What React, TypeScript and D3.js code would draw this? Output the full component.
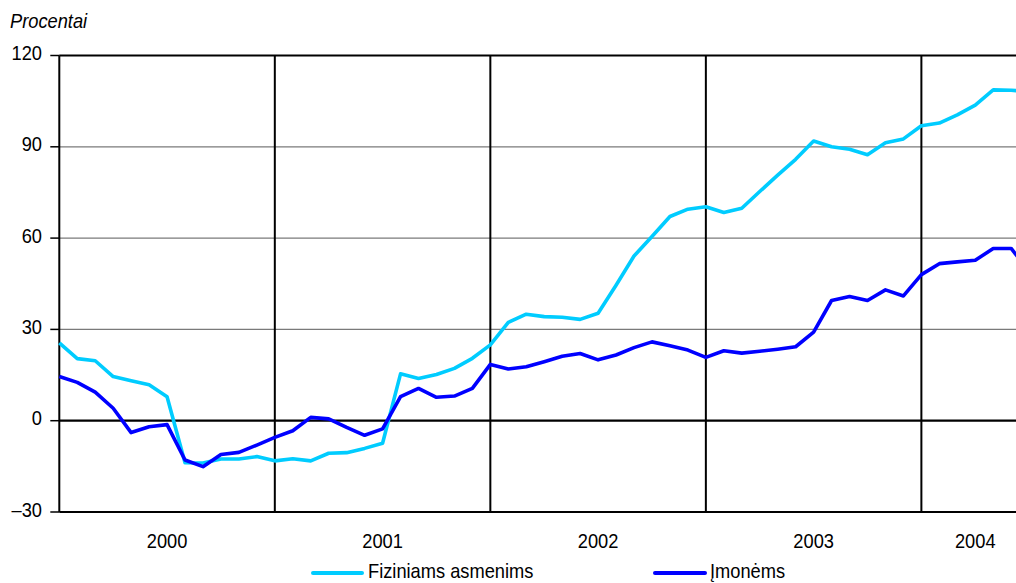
import React from "react";
import * as d3 from "d3";

// Monthly observations, Jan 2000 .. Jul 2004 (index 0..54)
const fiziniams: number[] = [
  25.6, 20.4, 19.7, 14.5, 13.1, 11.8, 7.9, -13.8, -13.9, -12.6, -12.6, -11.8,
  -13.2, -12.5, -13.2, -10.7, -10.5, -9.1, -7.4, 15.4, 13.9, 15.2, 17.2, 20.5,
  24.9, 32.3, 35.0, 34.2, 34.0, 33.3, 35.3, 44.5, 54.1, 60.5, 67.1, 69.5,
  70.3, 68.4, 69.8, 75.3, 80.7, 85.9, 91.9, 90.0, 89.2, 87.4, 91.3, 92.6,
  96.9, 97.8, 100.5, 103.7, 108.7, 108.6, 108.0,
];
const imonems: number[] = [
  14.5, 12.6, 9.4, 4.1, -3.9, -2.0, -1.3, -12.9, -15.1, -11.1, -10.4, -8.0,
  -5.5, -3.3, 1.1, 0.6, -2.2, -4.8, -2.7, 7.9, 10.6, 7.7, 8.1, 10.6,
  18.5, 17.0, 17.7, 19.4, 21.2, 22.1, 20.0, 21.6, 24.0, 25.9, 24.6, 23.2,
  20.8, 23.0, 22.2, 22.8, 23.5, 24.3, 29.1, 39.5, 40.8, 39.5, 43.0, 41.0,
  48.0, 51.6, 52.2, 52.7, 56.6, 56.6, 49.0,
];
const years: string[] = ["2000", "2001", "2002", "2003", "2004"];
const yearStartIdx: number[] = [0, 12, 24, 36, 48];
const yearMidIdx: number[] = [6, 18, 30, 42, 51];
const yTicks: number[] = [120, 90, 60, 30, 0, -30];
const yTickLabels: string[] = ["120", "90", "60", "30", "0", "\u201330"];
const seriesNames: string[] = ["Fiziniams asmenims", "\u012Emon\u0117ms"];
const seriesColors: string[] = ["#00CCFF", "#0000FF"];

const W = 1016;
const H = 583;
const FONT = "Arial, 'Liberation Sans', sans-serif";
const FS = 21;
const SX = 0.87;

function T(props: {
  x: number;
  y: number;
  anchor?: "start" | "middle" | "end";
  italic?: boolean;
  children: React.ReactNode;
}) {
  return (
    <text
      transform={`translate(${props.x},${props.y}) scale(${SX},1)`}
      textAnchor={props.anchor || "start"}
      fontFamily={FONT}
      fontSize={FS}
      fontStyle={props.italic ? "italic" : "normal"}
      fill="#000"
    >
      {props.children}
    </text>
  );
}

export default function App() {
  const x = d3.scaleLinear().domain([0, 54]).range([59.3, 59.3 + 54 * 17.96]);
  const y = d3.scaleLinear().domain([-30, 120]).range([512, 55.5]);
  const line = d3
    .line<number>()
    .x((_, i) => x(i))
    .y((d) => y(d));
  const left = x(0);
  const right = W;

  return (
    <svg
      width={W}
      height={H}
      style={{ position: "absolute", left: 0, top: 0, background: "#fff" }}
    >
      <rect x={0} y={0} width={W} height={H} fill="#fff" />
      {/* gridlines */}
      {[90, 60, 30].map((v) => (
        <line key={v} x1={left} x2={right} y1={y(v)} y2={y(v)} stroke="#7a7a7a" strokeWidth={1.3} />
      ))}
      {/* y ticks */}
      {yTicks.map((v) => (
        <line key={"t" + v} x1={left - 9} x2={left} y1={y(v)} y2={y(v)} stroke="#000" strokeWidth={1.5} />
      ))}
      {/* vertical year lines */}
      {yearStartIdx.slice(1).map((i) => (
        <line key={"v" + i} x1={x(i)} x2={x(i)} y1={y(120)} y2={y(-30)} stroke="#000" strokeWidth={2} />
      ))}
      {/* frame lines */}
      <line x1={left} x2={right} y1={y(120)} y2={y(120)} stroke="#000" strokeWidth={2} />
      <line x1={left} x2={right} y1={y(0)} y2={y(0)} stroke="#000" strokeWidth={2.2} />
      <line x1={left} x2={right} y1={y(-30)} y2={y(-30)} stroke="#000" strokeWidth={2} />
      <line x1={left} x2={left} y1={y(120)} y2={y(-30)} stroke="#000" strokeWidth={2} />
      {/* series */}
      <path d={line(fiziniams) || ""} fill="none" stroke={seriesColors[0]} strokeWidth={3.6} strokeLinejoin="round" />
      <path d={line(imonems) || ""} fill="none" stroke={seriesColors[1]} strokeWidth={3.6} strokeLinejoin="round" />
      {/* y tick labels */}
      {yTicks.map((v, i) => (
        <T key={"l" + v} x={42} y={y(v) + 4.5} anchor="end">
          {yTickLabels[i]}
        </T>
      ))}
      <T x={10} y={28} italic>
        Procentai
      </T>
      {/* year labels */}
      {years.map((yr, i) => (
        <T key={yr} x={x(yearMidIdx[i])} y={548} anchor="middle">
          {yr}
        </T>
      ))}
      {/* legend */}
      <line x1={313} x2={362} y1={573} y2={573} stroke={seriesColors[0]} strokeWidth={4} strokeLinecap="round" />
      <T x={368} y={578}>{seriesNames[0]}</T>
      <line x1={655} x2={705} y1={573} y2={573} stroke={seriesColors[1]} strokeWidth={4} strokeLinecap="round" />
      <T x={710} y={578}>{seriesNames[1]}</T>
    </svg>
  );
}
